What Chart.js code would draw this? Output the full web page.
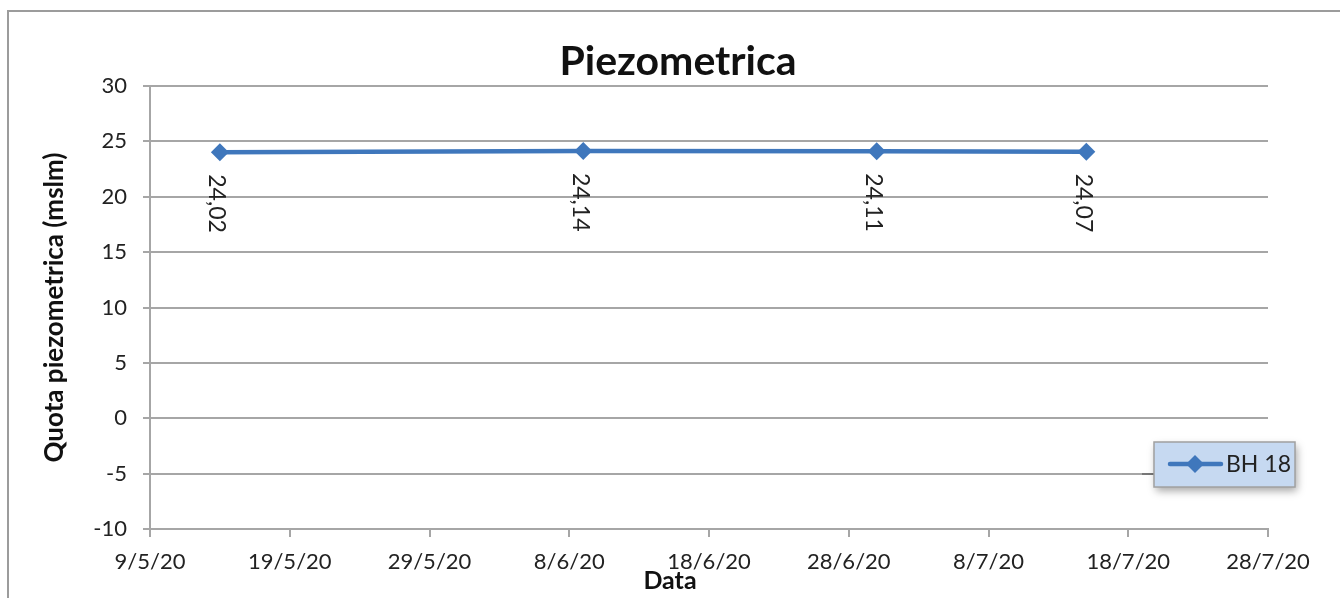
<!DOCTYPE html>
<html>
<head>
<meta charset="utf-8">
<script src="https://cdn.jsdelivr.net/npm/chart.js@4/dist/chart.umd.min.js"></script>
<style>
  html, body { margin: 0; padding: 0; background: #fff; }
  #wrap { width: 1340px; height: 598px; position: relative; }
</style>
</head>
<body>
<div id="wrap"><canvas id="chart"></canvas></div>
<script>
// dati
const dates = ['14/5/20', '9/6/20', '30/6/20', '15/7/20'];
const quota = [24.02, 24.14, 24.11, 24.07];
const seriesName = 'BH 18';
const chartTitle = 'Piezometrica';
const xTitle = 'Data';
const xStart = '9/5/20';
const xEnd = '28/7/20';
const xStepDays = 10;
const yTicks = [-10, -5, 0, 5, 10, 15, 20, 25, 30];

const FONT = 'Lato, "Open Sans", sans-serif';
const BLUE = '#3f77bc';
const DAY = 86400000;

// data -> numero di giorni
function toDay(s) {
  const p = s.split('/').map(Number);
  return Date.UTC(2000 + p[2], p[1] - 1, p[0]) / DAY;
}
function fmtDay(d) {
  const dt = new Date(Math.round(d) * DAY);
  return dt.getUTCDate() + '/' + (dt.getUTCMonth() + 1) + '/' + (dt.getUTCFullYear() % 100);
}

const points = dates.map((d, i) => ({ x: toDay(d), y: quota[i] }));

// cornice esterna + titoli
const framePlugin = {
  id: 'frame',
  beforeDraw(chart) {
    const ctx = chart.ctx;
    ctx.save();
    ctx.strokeStyle = '#9c9c9c';
    ctx.lineWidth = 2;
    ctx.strokeRect(8, 11, 1400, 700);
    ctx.fillStyle = '#111';
    ctx.font = 'bold 41px ' + FONT;
    ctx.textAlign = 'center';
    ctx.textBaseline = 'middle';
    ctx.fillText(chartTitle, 678, 62);
    ctx.font = 'bold 25px ' + FONT;
    ctx.fillText(xTitle, 670, 581);
    ctx.restore();
  }
};

// etichette ruotate sotto i punti
const labelPlugin = {
  id: 'rotLabels',
  afterDatasetsDraw(chart) {
    const ctx = chart.ctx;
    const meta = chart.getDatasetMeta(0);
    ctx.save();
    ctx.font = '23px ' + FONT;
    ctx.fillStyle = '#222';
    ctx.textAlign = 'left';
    ctx.textBaseline = 'middle';
    meta.data.forEach((el, i) => {
      ctx.save();
      ctx.translate(el.x - 3, el.y + 22);
      ctx.rotate(Math.PI / 2);
      ctx.fillText(quota[i].toFixed(2).replace('.', ','), 0, 0);
      ctx.restore();
    });
    ctx.restore();
  }
};

// legenda in riquadro
const legendPlugin = {
  id: 'boxLegend',
  afterDraw(chart) {
    const ctx = chart.ctx;
    const x = 1154, y = 442, w = 141, h = 45;
    ctx.save();
    ctx.strokeStyle = '#777';
    ctx.lineWidth = 2;
    ctx.beginPath();
    ctx.moveTo(1142, 474);
    ctx.lineTo(1154, 474);
    ctx.stroke();
    ctx.shadowColor = 'rgba(0,0,0,0.35)';
    ctx.shadowBlur = 8;
    ctx.shadowOffsetX = 2;
    ctx.shadowOffsetY = 4;
    ctx.fillStyle = '#c6d9f1';
    ctx.fillRect(x, y, w, h);
    ctx.shadowColor = 'transparent';
    ctx.strokeStyle = '#a0a0a0';
    ctx.lineWidth = 1.5;
    ctx.strokeRect(x, y, w, h);
    const cy = y + 22;
    ctx.strokeStyle = BLUE;
    ctx.lineWidth = 4.5;
    ctx.lineCap = 'round';
    ctx.beginPath();
    ctx.moveTo(x + 16, cy);
    ctx.lineTo(x + 67, cy);
    ctx.stroke();
    ctx.fillStyle = BLUE;
    ctx.beginPath();
    ctx.moveTo(x + 41, cy - 9);
    ctx.lineTo(x + 50, cy);
    ctx.lineTo(x + 41, cy + 9);
    ctx.lineTo(x + 32, cy);
    ctx.closePath();
    ctx.fill();
    ctx.fillStyle = '#222';
    ctx.font = '23px ' + FONT;
    ctx.textBaseline = 'middle';
    ctx.fillText(seriesName, x + 72, cy + 1);
    ctx.restore();
  }
};

new Chart(document.getElementById('chart'), {
  type: 'line',
  data: {
    datasets: [{
      label: seriesName,
      data: points,
      borderColor: BLUE,
      backgroundColor: BLUE,
      borderWidth: 4.5,
      pointStyle: 'rectRot',
      pointRadius: 9,
      pointHoverRadius: 9,
      pointBackgroundColor: BLUE,
      pointBorderWidth: 0,
      tension: 0
    }]
  },
  options: {
    responsive: true,
    maintainAspectRatio: false,
    animation: false,
    events: [],
    layout: { padding: { left: 30, right: 72, top: 86, bottom: 0 } },
    plugins: {
      legend: { display: false },
      tooltip: { enabled: false },
      title: { display: false }
    },
    scales: {
      x: {
        type: 'linear',
        min: toDay(xStart),
        max: toDay(xEnd),
        afterBuildTicks(scale) {
          const t = [];
          for (let d = toDay(xStart); d <= toDay(xEnd); d += xStepDays) t.push({ value: d });
          scale.ticks = t;
        },
        afterFit(scale) { scale.height = 69; },
        grid: {
          drawOnChartArea: false,
          drawTicks: true,
          tickLength: 8,
          color: '#a6a6a6',
          lineWidth: 2
        },
        border: { color: '#a6a6a6', width: 2 },
        ticks: {
          color: '#222',
          font: { family: FONT, size: 22 },
          padding: 12,
          maxRotation: 0,
          autoSkip: false,
          callback: v => fmtDay(v)
        },
        title: { display: false }
      },
      y: {
        min: yTicks[0],
        max: yTicks[yTicks.length - 1],
        afterBuildTicks(scale) {
          scale.ticks = yTicks.map(v => ({ value: v }));
        },
        afterFit(scale) { scale.width = 120; },
        grid: {
          color: '#a6a6a6',
          lineWidth: 2,
          tickLength: 7
        },
        border: { color: '#a6a6a6', width: 2 },
        ticks: {
          color: '#222',
          font: { family: FONT, size: 22 },
          padding: 16
        },
        title: {
          display: true,
          text: 'Quota piezometrica (mslm)',
          color: '#111',
          font: { family: FONT, size: 26, weight: 'bold' },
          padding: { top: 9, bottom: 0 }
        }
      }
    }
  },
  plugins: [framePlugin, labelPlugin, legendPlugin]
});
</script>
</body>
</html>
